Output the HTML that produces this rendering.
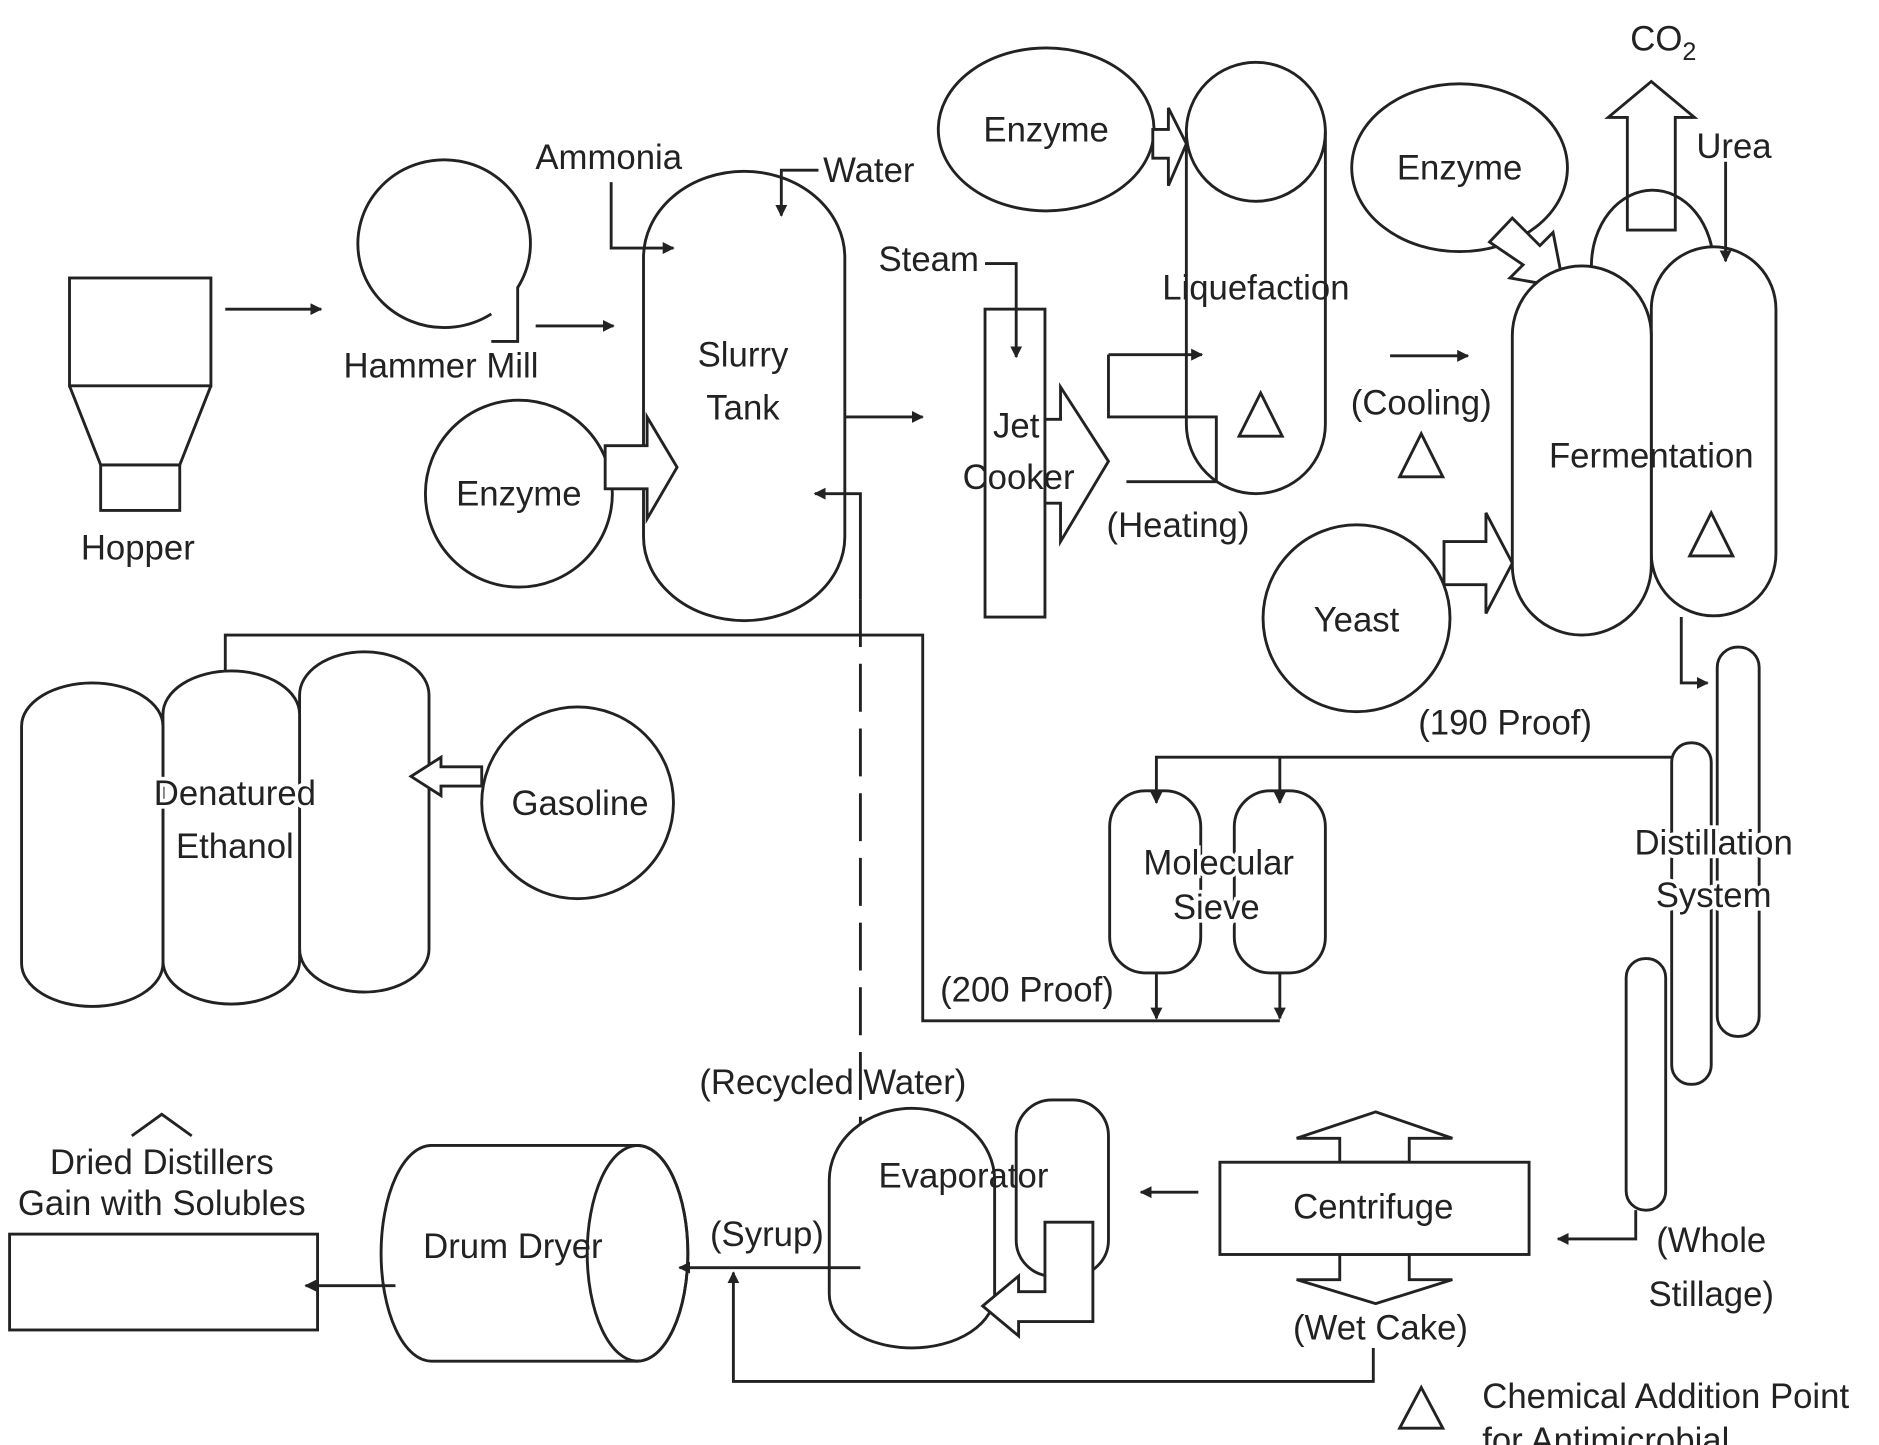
<!DOCTYPE html>
<html><head><meta charset="utf-8"><style>
html,body{margin:0;padding:0;background:#fff;}
svg{display:block;}
text{font-family:"Liberation Sans",sans-serif;font-size:29px;fill:#222;text-anchor:middle;}
.s{fill:none;stroke:#222;stroke-width:2.4;}
.w{fill:#fff;stroke:#222;stroke-width:2.4;}
</style></head><body>
<svg width="1879" height="1445" viewBox="0 0 1568 1206" preserveAspectRatio="none" xmlns="http://www.w3.org/2000/svg">
<defs><marker id="a" markerWidth="10" markerHeight="10" refX="9" refY="5" orient="auto" markerUnits="userSpaceOnUse" viewBox="0 0 10 10"><path d="M0,0 L10,5 L0,10 Z" fill="#222"/></marker></defs>
<rect width="1568" height="1206" fill="#fff"/>
<!-- Hopper -->
<rect class="s" x="58" y="232" width="118" height="90"/>
<path class="s" d="M58,322 L84,388 L150,388 L176,322"/>
<rect class="s" x="84" y="388" width="66" height="38"/>
<text x="115" y="467">Hopper</text>
<line class="s" x1="188" y1="258" x2="268" y2="258" marker-end="url(#a)"/>
<!-- Hammer mill -->
<path class="s" d="M410,262 A72,70 0 1 1 432,240 L432,285 L410,285"/>
<text x="368" y="315">Hammer Mill</text>
<line class="s" x1="447" y1="272" x2="512" y2="272" marker-end="url(#a)"/>
<!-- Slurry tank -->
<path class="s" d="M537,215 A84,72 0 0 1 705,215 L705,448 A84,70 0 0 1 537,448 Z"/>
<text x="620" y="306">Slurry</text><text x="620" y="350">Tank</text>
<text x="508" y="141">Ammonia</text>
<path class="s" d="M510,152 L510,207 L562,207" marker-end="url(#a)"/>
<text x="725" y="152">Water</text>
<path class="s" d="M683,142 L652,142 L652,180" marker-end="url(#a)"/>
<circle class="s" cx="433" cy="412" r="78"/>
<text x="433" y="422">Enzyme</text>
<path class="w" d="M505,372 L540,372 L540,348 L565,390 L540,433 L540,408 L505,408 Z"/>
<line class="s" x1="705" y1="348" x2="770" y2="348" marker-end="url(#a)"/>
<path class="s" d="M718,500 L718,412 L680,412" marker-end="url(#a)"/>
<line class="s" x1="718" y1="500" x2="718" y2="940" stroke-dasharray="40,14"/>
<!-- Jet cooker -->
<text x="775" y="226">Steam</text>
<path class="s" d="M822,220 L848,220 L848,298" marker-end="url(#a)"/>
<rect class="s" x="822" y="258" width="50" height="257"/>
<path class="w" d="M872,350 L885,350 L885,323 L925,385 L885,452 L885,420 L872,420 Z"/>
<text x="848" y="365">Jet</text><text x="850" y="408">Cooker</text>
<path class="s" d="M925,296 L1003,296" marker-end="url(#a)"/>
<path class="s" d="M925,296 L925,348 L1015,348 L1015,402 L940,402"/>
<text x="983" y="448">(Heating)</text>
<!-- Liquefaction -->
<path class="s" d="M990,110 A58,58 0 0 1 1106,110 L1106,354 A58,58 0 0 1 990,354 Z"/>
<path class="s" d="M990,110 A58,58 0 0 0 1106,110"/>
<text x="1048" y="250">Liquefaction</text>
<path class="s" d="M1052,328 L1034,364 L1070,364 Z"/>
<ellipse class="s" cx="873" cy="108" rx="90" ry="68"/>
<text x="873" y="118">Enzyme</text>
<path class="w" d="M962,108 L975,108 L975,90 L990,120 L975,155 L975,132 L962,132 Z"/>
<line class="s" x1="1160" y1="297" x2="1225" y2="297" marker-end="url(#a)"/>
<text x="1186" y="346">(Cooling)</text>
<path class="s" d="M1186,362 L1168,398 L1204,398 Z"/>
<!-- Fermentation -->
<ellipse class="s" cx="1218" cy="140" rx="90" ry="70"/>
<text x="1218" y="150">Enzyme</text>
<path class="w" d="M1243,202 L1262,182 L1285,205 L1296,194 L1305,240 L1260,232 L1271,221 Z"/>
<path class="w" d="M1358,192 L1358,98 L1342,98 L1378,68 L1414,98 L1398,98 L1398,192 Z"/>
<text x="1388" y="42">CO<tspan font-size="21" dy="8">2</tspan></text>
<text x="1447" y="132">Urea</text>
<path class="s" d="M1328,222 A50,62 0 0 1 1430,222"/>
<path class="w" d="M1378,258 A52,52 0 0 1 1482,258 L1482,462 A52,52 0 0 1 1378,462 Z"/>
<path class="w" d="M1262,280 A58,58 0 0 1 1378,280 L1378,472 A58,58 0 0 1 1262,472 Z"/>
<line class="s" x1="1440" y1="135" x2="1440" y2="218" marker-end="url(#a)"/>
<text x="1378" y="390">Fermentation</text>
<path class="s" d="M1428,428 L1410,464 L1446,464 Z"/>
<circle class="s" cx="1132" cy="516" r="78"/>
<text x="1132" y="527">Yeast</text>
<path class="w" d="M1205,452 L1240,452 L1240,428 L1262,470 L1240,512 L1240,488 L1205,488 Z"/>
<path class="s" d="M1403,515 L1403,570 L1425,570" marker-end="url(#a)"/>
<!-- Distillation -->
<rect class="w" x="1433" y="540" width="35" height="325" rx="17"/>
<rect class="w" x="1395" y="620" width="33" height="285" rx="16"/>
<rect class="w" x="1357" y="800" width="33" height="210" rx="16"/>
<text x="1430" y="713" style="paint-order:stroke;stroke:#fff;stroke-width:6px">Distillation</text>
<text x="1430" y="757" style="paint-order:stroke;stroke:#fff;stroke-width:6px">System</text>
<text x="1256" y="613">(190 Proof)</text>
<path class="s" d="M1395,632 L965,632 L965,670" marker-end="url(#a)"/>
<line class="s" x1="1068" y1="632" x2="1068" y2="670" marker-end="url(#a)"/>
<!-- Molecular sieve -->
<rect class="s" x="926" y="660" width="76" height="152" rx="30"/>
<rect class="s" x="1030" y="660" width="76" height="152" rx="30"/>
<text x="1017" y="730" style="paint-order:stroke;stroke:#fff;stroke-width:6px">Molecular</text>
<text x="1015" y="767" style="paint-order:stroke;stroke:#fff;stroke-width:6px">Sieve</text>
<line class="s" x1="965" y1="812" x2="965" y2="850" marker-end="url(#a)"/>
<line class="s" x1="1068" y1="812" x2="1068" y2="850" marker-end="url(#a)"/>
<path class="s" d="M1068,852 L770,852 L770,530 L188,530 L188,568" marker-end="url(#a)"/>
<text x="857" y="836">(200 Proof)</text>
<!-- Denatured ethanol -->
<path class="w" d="M250,580 A54,36 0 0 1 358,580 L358,792 A54,36 0 0 1 250,792 Z"/>
<path class="w" d="M136,596 A57,36 0 0 1 250,596 L250,802 A57,36 0 0 1 136,802 Z"/>
<path class="w" d="M18,606 A59,36 0 0 1 136,606 L136,804 A59,36 0 0 1 18,804 Z"/>
<text x="196" y="672" style="paint-order:stroke;stroke:#fff;stroke-width:6px">Denatured</text>
<text x="196" y="716" style="paint-order:stroke;stroke:#fff;stroke-width:6px">Ethanol</text>
<circle class="s" cx="482" cy="670" r="80"/>
<text x="484" y="680">Gasoline</text>
<path class="w" d="M402,640 L368,640 L368,632 L343,648 L368,664 L368,656 L402,656 Z"/>
<!-- Evaporator -->
<text x="695" y="913">(Recycled Water)</text>
<rect class="s" x="848" y="918" width="77" height="147" rx="30"/>
<path class="w" d="M692,985 A69,60 0 0 1 830,985 L830,1080 A69,45 0 0 1 692,1080 Z"/>
<text x="804" y="991">Evaporator</text>
<path class="w" d="M912,1020 L912,1103 L850,1103 L850,1115 L820,1090 L850,1065 L850,1078 L872,1078 L872,1020 Z"/>
<line class="s" x1="1000" y1="995" x2="952" y2="995" marker-end="url(#a)"/>
<!-- Centrifuge -->
<path class="w" d="M1118,970 L1118,950 L1082,950 L1148,928 L1212,950 L1176,950 L1176,970 Z"/>
<path class="w" d="M1118,1047 L1118,1068 L1082,1068 L1148,1088 L1212,1068 L1176,1068 L1176,1047 Z"/>
<rect class="w" x="1018" y="970" width="258" height="77"/>
<text x="1146" y="1017">Centrifuge</text>
<text x="1428" y="1045">(Whole</text><text x="1428" y="1090">Stillage)</text>
<path class="s" d="M1365,1010 L1365,1034 L1300,1034" marker-end="url(#a)"/>
<text x="1152" y="1118">(Wet Cake)</text>
<path class="s" d="M1146,1125 L1146,1153 L612,1153 L612,1062" marker-end="url(#a)"/>
<text x="640" y="1040">(Syrup)</text>
<!-- Drum dryer -->
<path class="w" d="M360,956 L532,956 A42,90 0 0 1 532,1136 L360,1136 A42,90 0 0 1 360,956 Z"/>
<ellipse class="s" cx="532" cy="1046" rx="42" ry="90"/>
<text x="428" y="1050">Drum Dryer</text>
<line class="s" x1="718" y1="1058" x2="567" y2="1058" marker-end="url(#a)"/>
<line class="s" x1="330" y1="1073" x2="255" y2="1073" marker-end="url(#a)"/>
<rect class="s" x="8" y="1030" width="257" height="80"/>
<path class="s" d="M110,948 L135,930 L160,948"/>
<text x="135" y="980">Dried Distillers</text>
<text x="135" y="1014">Gain with Solubles</text>
<!-- Legend -->
<path class="s" d="M1186,1158 L1168,1192 L1204,1192 Z"/>
<text x="1390" y="1175">Chemical Addition Point</text>
<text x="1340" y="1212" style="text-anchor:middle">for Antimicrobial</text>
</svg>
</body></html>
